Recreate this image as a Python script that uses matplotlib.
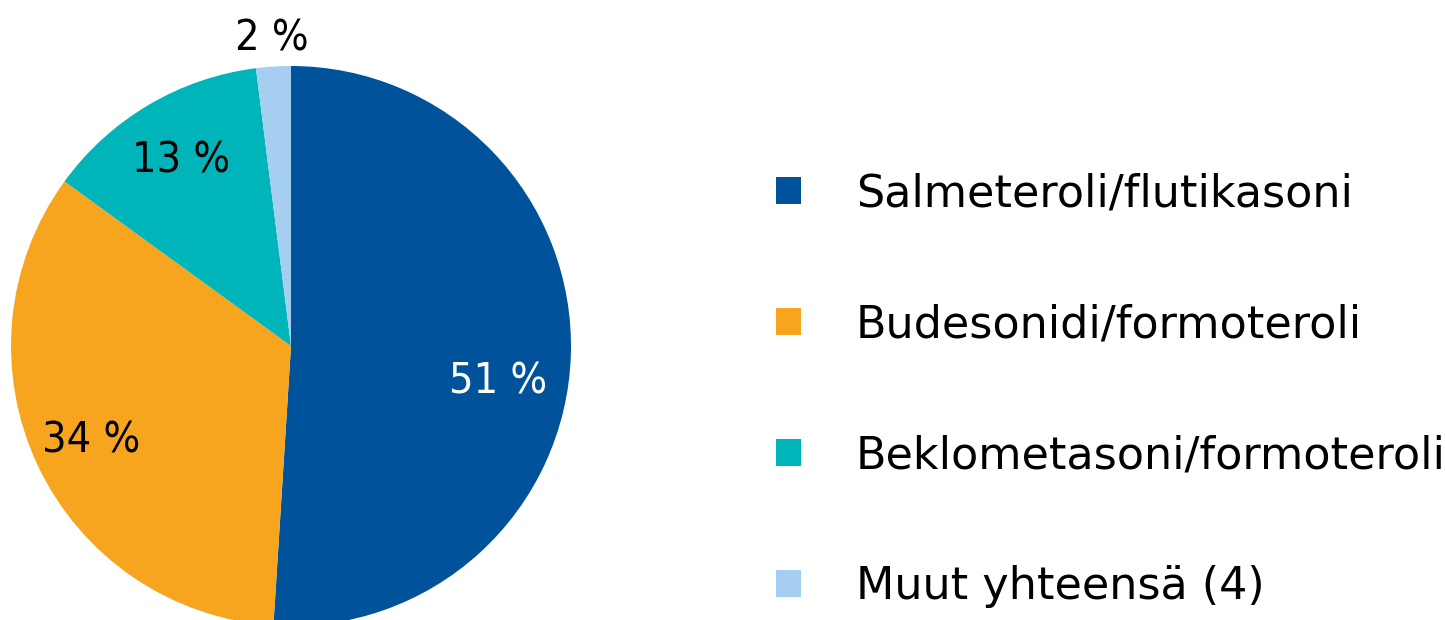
import matplotlib
matplotlib.use("Agg")
import matplotlib.pyplot as plt
import numpy as np

# osuudet (%)
labels = ["Salmeteroli/flutikasoni", "Budesonidi/formoteroli",
          "Beklometasoni/formoteroli", "Muut yhteensä (4)"]
values = [51, 34, 13, 2]
colors = ["#00539B", "#F7A51E", "#00B5BA", "#A6CEF0"]

plt.rcParams['font.family'] = ['DejaVu Sans']
plt.rcParams['font.stretch'] = 'condensed'

fig = plt.figure(figsize=(14.45, 6.2), dpi=100)
ax = fig.add_axes([0, 0, 1, 1])

cx, cy, r = 291, 620 - 346, 280
wedges, texts = ax.pie(values, colors=colors, startangle=90, counterclock=False,
                       center=(cx, cy), radius=r, frame=True)
ax.set_xlim(0, 1445)
ax.set_ylim(0, 620)
ax.set_aspect('equal')
ax.axis('off')

# label placement (distance as fraction of radius, optional angle tweak)
dist = [0.75, 0.79, 0.77, 1.10]
ang_shift = [-7.8, 0, 0, 0]
txtcol = ["white", "black", "black", "black"]
for w, v, d, s, c in zip(wedges, values, dist, ang_shift, txtcol):
    a = np.deg2rad((w.theta1 + w.theta2) / 2 + s)
    ax.text(cx + d * r * np.cos(a), cy + d * r * np.sin(a), f"{v} %",
            ha='center', va='center', fontsize=31, color=c)

leg = fig.legend(wedges, labels, loc='upper left', bbox_to_anchor=(0.509, 0.787),
                 frameon=False, prop={'size': 32, 'stretch': 'normal'},
                 labelspacing=1.98, handlelength=0.57, handleheight=0.57,
                 handletextpad=1.24)

fig.savefig("out.png", dpi=100)
